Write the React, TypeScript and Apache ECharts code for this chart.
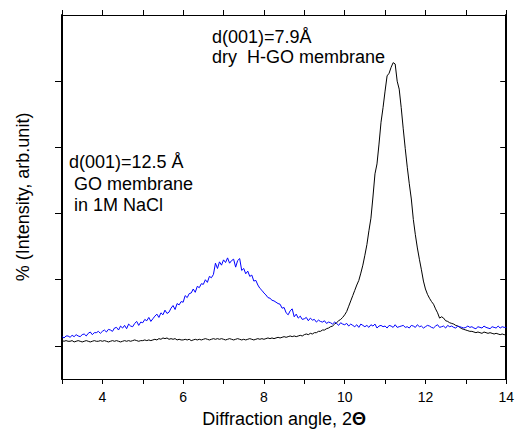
import React, { useEffect, useRef } from "react";
import * as echarts from "echarts";

// Diffraction angle sampling grid (2Θ, degrees)
const ANGLE_START = 3;
const ANGLE_STEP = 0.05;
const ANGLE_MIN = 3;
const ANGLE_MAX = 14;

// GO membrane in 1M NaCl (blue), arb. units, one value per 0.05° from 3.00 to 14.00
const goInNaCl: number[] = [
  0.14,0.12,0.15,0.15,0.13,0.16,0.14,0.17,0.15,0.14,0.17,0.18,0.15,0.19,0.21,0.17,0.20,0.20,0.22,0.19,
  0.22,0.24,0.21,0.25,0.24,0.22,0.27,0.28,0.24,0.30,0.27,0.31,0.26,0.33,0.30,0.29,0.34,0.37,0.31,0.36,
  0.35,0.40,0.38,0.43,0.37,0.41,0.45,0.48,0.43,0.50,0.47,0.54,0.49,0.51,0.57,0.61,0.55,0.64,0.62,0.67,
  0.66,0.76,0.73,0.79,0.80,0.86,0.81,0.90,0.88,0.94,0.93,1.00,0.96,1.05,1.03,1.08,1.25,1.17,1.27,1.22,
  1.30,1.26,1.33,1.25,1.29,1.31,1.19,1.29,1.32,1.14,1.17,1.09,1.13,1.05,1.07,0.98,0.99,0.92,0.87,0.84,
  0.80,0.77,0.73,0.72,0.69,0.68,0.66,0.64,0.63,0.57,0.58,0.50,0.47,0.53,0.56,0.44,0.48,0.42,0.45,0.40,
  0.41,0.43,0.38,0.42,0.39,0.40,0.36,0.39,0.37,0.36,0.38,0.34,0.36,0.35,0.33,0.36,0.34,0.31,0.35,0.33,
  0.32,0.34,0.30,0.33,0.31,0.29,0.32,0.28,0.33,0.31,0.29,0.31,0.28,0.32,0.30,0.33,0.27,0.30,0.31,0.29,
  0.30,0.27,0.31,0.30,0.28,0.32,0.28,0.29,0.30,0.31,0.28,0.29,0.27,0.31,0.30,0.28,0.32,0.29,0.30,0.27,
  0.29,0.31,0.30,0.28,0.27,0.30,0.32,0.28,0.29,0.30,0.27,0.31,0.29,0.30,0.28,0.27,0.30,0.29,0.28,0.27,
  0.28,0.30,0.28,0.29,0.27,0.26,0.29,0.28,0.27,0.30,0.28,0.27,0.26,0.29,0.28,0.27,0.30,0.27,0.29,0.28,
  0.28,
];

// dry H-GO membrane (black), arb. units, same grid
const dryHGO: number[] = [
  0.08,0.07,0.08,0.07,0.07,0.08,0.06,0.07,0.08,0.07,0.06,0.07,0.08,0.07,0.06,0.07,0.08,0.07,0.07,0.08,
  0.07,0.08,0.07,0.06,0.07,0.08,0.07,0.08,0.07,0.06,0.07,0.08,0.07,0.08,0.07,0.08,0.09,0.08,0.07,0.08,
  0.08,0.09,0.08,0.09,0.08,0.09,0.10,0.09,0.11,0.10,0.12,0.11,0.12,0.10,0.11,0.10,0.11,0.09,0.10,0.09,
  0.09,0.10,0.09,0.10,0.08,0.09,0.10,0.09,0.10,0.09,0.10,0.11,0.10,0.09,0.10,0.11,0.10,0.11,0.10,0.11,
  0.10,0.09,0.10,0.11,0.10,0.09,0.10,0.11,0.10,0.09,0.10,0.09,0.10,0.11,0.10,0.09,0.10,0.11,0.10,0.11,
  0.10,0.11,0.12,0.11,0.12,0.11,0.12,0.13,0.12,0.13,0.14,0.13,0.14,0.15,0.14,0.15,0.14,0.15,0.16,0.15,
  0.17,0.18,0.17,0.19,0.18,0.20,0.20,0.22,0.22,0.24,0.24,0.26,0.27,0.29,0.30,0.33,0.35,0.38,0.40,0.43,
  0.47,0.52,0.60,0.68,0.76,0.84,0.92,0.99,1.10,1.22,1.37,1.53,1.74,1.93,2.25,2.60,2.75,3.05,3.38,3.60,
  3.85,4.08,4.12,4.21,4.28,4.26,4.00,3.88,3.60,3.28,2.98,2.70,2.45,2.22,1.91,1.68,1.48,1.31,1.15,0.98,
  0.86,0.78,0.72,0.67,0.63,0.56,0.50,0.42,0.44,0.42,0.38,0.37,0.35,0.34,0.33,0.31,0.30,0.28,0.26,0.25,
  0.24,0.23,0.22,0.22,0.21,0.20,0.21,0.20,0.19,0.21,0.20,0.19,0.20,0.19,0.18,0.19,0.18,0.17,0.18,0.17,
  0.17,
];

const xTickLabels = [4, 6, 8, 10, 12, 14];
const yTickValues = [0, 1, 2, 3, 4];

const FONT = "'Liberation Sans', Arial, sans-serif";

const toPairs = (vals: number[]) =>
  vals.map((v, i) => [Number((ANGLE_START + i * ANGLE_STEP).toFixed(2)), v]);

const mkLine = (w = 1) => ({ show: true, onZero: false, lineStyle: { color: "#000", width: w } });

export default function App() {
  const ref = useRef<HTMLDivElement>(null);

  useEffect(() => {
    if (!ref.current) return;
    const chart = echarts.init(ref.current, null, { renderer: "svg" });
    chart.setOption({
      animation: false,
      grid: { left: 62, right: 8, top: 15, bottom: 56 },
      xAxis: [
        {
          type: "value",
          position: "bottom",
          min: ANGLE_MIN,
          max: ANGLE_MAX,
          interval: 1,
          axisLine: mkLine(),
          axisTick: { show: true, length: 5, lineStyle: { color: "#000" } },
          axisLabel: {
            color: "#000",
            fontSize: 14,
            fontFamily: FONT,
            margin: 11,
            formatter: (v: number) => (xTickLabels.includes(v) ? String(v) : ""),
          },
          splitLine: { show: false },
          name: "Diffraction angle, 2{b|Θ}",
          nameLocation: "middle",
          nameGap: 31,
          nameTextStyle: {
            color: "#000",
            fontSize: 18,
            fontFamily: FONT,
            rich: { b: { fontSize: 18, fontWeight: "bold", fontFamily: FONT, color: "#000" } },
          },
        },
        {
          type: "value",
          position: "top",
          min: ANGLE_MIN,
          max: ANGLE_MAX,
          interval: 1,
          axisLine: mkLine(),
          axisTick: { show: true, length: 5, lineStyle: { color: "#000" } },
          axisLabel: { show: false },
          splitLine: { show: false },
        },
      ],
      yAxis: [
        {
          type: "value",
          position: "left",
          min: -0.5,
          max: 5,
          axisLine: mkLine(2),
          axisTick: { show: true, length: 7, customValues: yTickValues, lineStyle: { color: "#000" } },
          axisLabel: { show: false },
          splitLine: { show: false },
          name: "% (Intensity, arb.unit)",
          nameLocation: "middle",
          nameGap: 30,
          nameTextStyle: { color: "#000", fontSize: 18, fontFamily: FONT },
        },
        {
          type: "value",
          position: "right",
          min: -0.5,
          max: 5,
          axisLine: mkLine(2),
          axisTick: {
            show: true,
            inside: true,
            length: 6,
            customValues: yTickValues,
            lineStyle: { color: "#000" },
          },
          axisLabel: { show: false },
          splitLine: { show: false },
        },
      ],
      series: [
        {
          name: "dry H-GO membrane",
          type: "line",
          xAxisIndex: 0,
          yAxisIndex: 0,
          data: toPairs(dryHGO),
          showSymbol: false,
          lineStyle: { color: "#000", width: 1 },
          itemStyle: { color: "#000" },
        },
        {
          name: "GO membrane in 1M NaCl",
          type: "line",
          xAxisIndex: 0,
          yAxisIndex: 0,
          data: toPairs(goInNaCl),
          showSymbol: false,
          lineStyle: { color: "#0000ff", width: 1 },
          itemStyle: { color: "#0000ff" },
        },
      ],
      graphic: [
        {
          type: "text",
          left: 212,
          top: 27,
          style: {
            text: "d(001)=7.9Å\ndry  H-GO membrane",
            fontSize: 18,
            fontFamily: FONT,
            fill: "#000",
            lineHeight: 20,
          },
        },
        {
          type: "text",
          left: 69,
          top: 151,
          style: {
            text: "d(001)=12.5 Å\n GO membrane\n in 1M NaCl",
            fontSize: 18,
            fontFamily: FONT,
            fill: "#000",
            lineHeight: 21.7,
          },
        },
      ],
    });
    return () => chart.dispose();
  }, []);

  return (
    <div
      ref={ref}
      style={{ position: "fixed", left: 0, top: 0, width: 517, height: 435, background: "#fff" }}
    />
  );
}
